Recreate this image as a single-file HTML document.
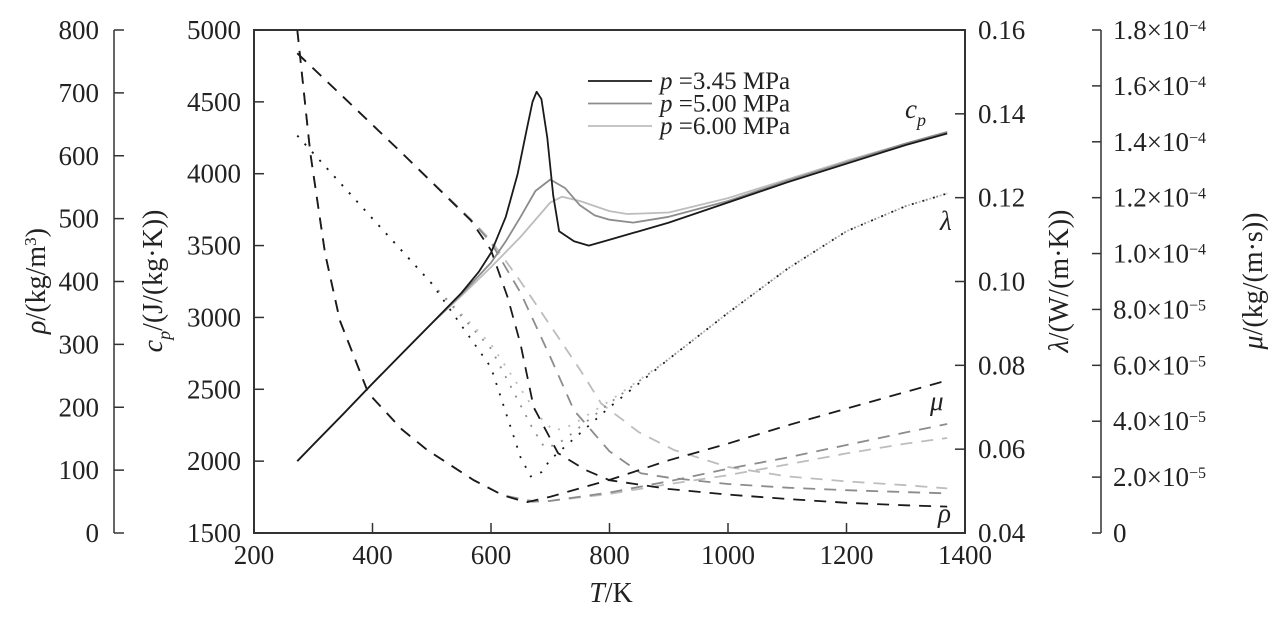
<!DOCTYPE html>
<html><head><meta charset="utf-8"><style>
html,body{margin:0;padding:0;background:#fff;}
svg, svg text, svg tspan{font-family:"Liberation Serif","DejaVu Serif",serif !important;}
</style></head><body>
<svg id="chart" width="1273" height="621" viewBox="0 0 1273 621" xmlns="http://www.w3.org/2000/svg">
<g id="axes"></g>
<g id="series"></g>
<g id="labels"></g>
</svg>
<script>
// ---- data ----
const pressures = ["3.45", "5.00", "6.00"];
const colors = ["#1a1a1a", "#8c8c8c", "#bdbdbd"];
const xTicks = [200, 400, 600, 800, 1000, 1200, 1400];
const cpTicks = [1500, 2000, 2500, 3000, 3500, 4000, 4500, 5000];
const rhoTicks = [0, 100, 200, 300, 400, 500, 600, 700, 800];
const lamTicks = ["0.04", "0.06", "0.08", "0.10", "0.12", "0.14", "0.16"];
const muTicks = ["0", "2.0×10<tspan baseline-shift='super' font-size='16'>−5</tspan>", "4.0×10<tspan baseline-shift='super' font-size='16'>−5</tspan>", "6.0×10<tspan baseline-shift='super' font-size='16'>−5</tspan>", "8.0×10<tspan baseline-shift='super' font-size='16'>−5</tspan>", "1.0×10<tspan baseline-shift='super' font-size='16'>−4</tspan>", "1.2×10<tspan baseline-shift='super' font-size='16'>−4</tspan>", "1.4×10<tspan baseline-shift='super' font-size='16'>−4</tspan>", "1.6×10<tspan baseline-shift='super' font-size='16'>−4</tspan>", "1.8×10<tspan baseline-shift='super' font-size='16'>−4</tspan>"];

const cpT = [
  [273,300,350,400,450,500,550,580,600,625,645,660,670,677,685,695,705,715,740,765,800,850,900,1000,1100,1200,1300,1370],
  [273,300,350,400,450,500,550,600,625,650,675,700,725,750,775,800,840,900,1000,1100,1200,1300,1370],
  [273,300,350,400,450,500,550,600,650,700,720,750,800,830,900,1000,1100,1200,1300,1370]
];
const cpV = [
  [2000,2115,2325,2540,2750,2960,3170,3320,3450,3700,4000,4300,4500,4570,4520,4250,3850,3600,3530,3500,3540,3600,3660,3800,3940,4070,4200,4280],
  [2000,2115,2325,2540,2750,2960,3160,3380,3530,3700,3880,3960,3900,3780,3710,3680,3660,3700,3810,3950,4080,4210,4290],
  [2000,2115,2325,2540,2750,2960,3150,3350,3560,3800,3840,3810,3740,3720,3730,3830,3960,4090,4210,4290]
];
const rhoT = [
  [273,350,450,566,600,628,650,672,713,760,800,900,1000,1100,1200,1300,1370],
  [273,350,450,566,600,650,700,740,800,853,900,1000,1100,1200,1300,1370],
  [273,350,450,566,600,650,700,750,786,850,909,1000,1100,1200,1300,1370]
];
const rhoV = [
  [763,694,604,497,450,375,300,200,127,100,84,70,61,54,48,44,42],
  [763,694,604,498,462,382,280,195,130,95,88,78,72,68,65,63],
  [763,694,604,499,465,400,330,260,206,160,132,105,90,82,76,71]
];
const muT = [
  [273,295,320,345,393,450,493,571,620,660,700,800,900,1000,1100,1200,1300,1370],
  [273,295,320,345,393,450,493,571,620,670,700,800,900,1000,1100,1200,1300,1370],
  [273,295,320,345,393,450,493,571,620,675,700,800,900,1000,1100,1200,1300,1370]
];
const muV = [
  [1.80e-4,1.36e-4,1.0e-4,7.6e-5,5.0e-5,3.7e-5,2.96e-5,1.89e-5,1.35e-5,1.10e-5,1.3e-5,1.9e-5,2.6e-5,3.2e-5,3.85e-5,4.45e-5,5.05e-5,5.46e-5],
  [1.80e-4,1.36e-4,1.0e-4,7.6e-5,5.0e-5,3.7e-5,2.96e-5,1.89e-5,1.35e-5,1.12e-5,1.15e-5,1.45e-5,1.85e-5,2.3e-5,2.7e-5,3.15e-5,3.6e-5,3.9e-5],
  [1.80e-4,1.36e-4,1.0e-4,7.6e-5,5.0e-5,3.7e-5,2.96e-5,1.89e-5,1.35e-5,1.13e-5,1.15e-5,1.4e-5,1.75e-5,2.07e-5,2.45e-5,2.85e-5,3.2e-5,3.4e-5]
];
const lamT = [
  [273,400,500,600,650,667,685,700,800,900,1000,1100,1200,1300,1370],
  [273,400,500,600,670,690,710,730,800,900,1000,1100,1200,1300,1370],
  [273,400,500,600,680,705,725,745,800,900,1000,1100,1200,1300,1370]
];
const lamV = [
  [0.1348,0.1150,0.0995,0.0795,0.0580,0.0535,0.0545,0.0575,0.0700,0.0815,0.0925,0.1030,0.1120,0.1180,0.1210],
  [0.1348,0.1150,0.0995,0.0840,0.0650,0.0605,0.0610,0.0630,0.0710,0.0815,0.0925,0.1030,0.1120,0.1180,0.1210],
  [0.1348,0.1150,0.0995,0.0850,0.0680,0.0645,0.0650,0.0665,0.0715,0.0815,0.0925,0.1030,0.1120,0.1180,0.1210]
];

// ---- scales ----
const L = 254, R = 965, TOP = 30, BOT = 533;
const xS = t => L + (t - 200) / 1200 * (R - L);
const cpS = v => BOT - (v - 1500) / 3500 * (BOT - TOP);
const rhoS = v => BOT - v / 800 * (BOT - TOP);
const lamS = v => BOT - (v - 0.04) / 0.12 * (BOT - TOP);
const muS = v => BOT - v / 1.8e-4 * (BOT - TOP);
const FF = "'Liberation Serif', 'DejaVu Serif', serif";
const FS = 27;

const NS = "http://www.w3.org/2000/svg";
function mk(tag, parent, attrs) {
  const e = document.createElementNS(NS, tag);
  for (const k in attrs) e.setAttribute(k, attrs[k]);
  parent.appendChild(e);
  return e;
}
const axes = document.getElementById('axes');
const series = document.getElementById('series');
const labels = document.getElementById('labels');

let fr = mk('rect', axes, {x: L, y: TOP, width: R - L, height: BOT - TOP, fill: 'none', stroke: '#333', 'stroke-width': 2});



xTicks.forEach(t => {
  const x = xS(t);
  let tk = mk('line', axes, {x1: x, x2: x, y1: BOT, y2: BOT - 10, stroke: '#333', 'stroke-width': 1.5});
  
  
  let tx = mk('text', axes, {x: x, y: 564, 'font-size': FS, 'font-family': FF, 'text-anchor': 'middle', fill: '#222'});
  tx.textContent = t;
  
  
});
cpTicks.forEach(v => {
  const y = cpS(v);
  let tk = mk('line', axes, {x1: L, x2: L + 10, y1: y, y2: y, stroke: '#333', 'stroke-width': 1.5});
  
  
  let tx = mk('text', axes, {x: 241, y: y + 9, 'font-size': FS, 'font-family': FF, 'text-anchor': 'end', fill: '#222'});
  tx.textContent = v;
  
  
});
let ra = mk('line', axes, {x1: 114, x2: 114, y1: TOP, y2: BOT, stroke: '#333', 'stroke-width': 1.5});


rhoTicks.forEach(v => {
  const y = rhoS(v);
  let tk = mk('line', axes, {x1: 114, x2: 124, y1: y, y2: y, stroke: '#333', 'stroke-width': 1.5});
  
  
  let tx = mk('text', axes, {x: 99, y: y + 9, 'font-size': FS, 'font-family': FF, 'text-anchor': 'end', fill: '#222'});
  tx.textContent = v;
  
  
});
lamTicks.forEach(s => {
  const y = lamS(parseFloat(s));
  let tk = mk('line', axes, {x1: R, x2: R - 10, y1: y, y2: y, stroke: '#333', 'stroke-width': 1.5});
  
  
  let tx = mk('text', axes, {x: 978, y: y + 9, 'font-size': FS, 'font-family': FF, fill: '#222'});
  tx.textContent = s;
  
  
});
let ma = mk('line', axes, {x1: 1101, x2: 1101, y1: TOP, y2: BOT, stroke: '#333', 'stroke-width': 1.5});


muTicks.forEach((s, i) => {
  const y = muS(i * 2e-5);
  let tk = mk('line', axes, {x1: 1101, x2: 1092, y1: y, y2: y, stroke: '#333', 'stroke-width': 1.5});
  
  
  let tx = mk('text', axes, {x: 1113, y: y + 9, 'font-size': FS, 'font-family': FF, fill: '#222'});
  tx.innerHTML = s;
  
  
});

function path(ts, vs, sc) {
  const n = Math.min(ts.length, vs.length);
  let d = '';
  for (let i = 0; i < n; i++) d += (i ? 'L' : 'M') + xS(ts[i]).toFixed(1) + ',' + sc(vs[i]).toFixed(1) + ' ';
  return d;
}
for (let i = pressures.length - 1; i >= 0; i--) {
  const p = pressures[i];
  let a = mk('path', series, {d: path(rhoT[i], rhoV[i], rhoS), fill: 'none', stroke: colors[i], 'stroke-width': 1.8, 'stroke-dasharray': '12 9'});
  
  
  let b = mk('path', series, {d: path(muT[i], muV[i], muS), fill: 'none', stroke: colors[i], 'stroke-width': 1.8, 'stroke-dasharray': '12 9'});
  
  
  let c = mk('path', series, {d: path(lamT[i], lamV[i], lamS), fill: 'none', stroke: colors[i], 'stroke-width': 1.8, 'stroke-dasharray': '2 9'});
  
  
}
for (let i = pressures.length - 1; i >= 0; i--) {
  let d = mk('path', series, {d: path(cpT[i], cpV[i], cpS), fill: 'none', stroke: colors[i], 'stroke-width': 1.8, 'stroke-linejoin': 'round'});
  
  
}

pressures.forEach((p, i) => {
  const y = 81 + i * 22.5;
  let ln = mk('line', labels, {x1: 588, x2: 652, y1: y, y2: y, stroke: colors[i], 'stroke-width': 1.8});
  
  
  let tx = mk('text', labels, {x: 660, y: y + 8, 'font-size': 25, 'font-family': FF, fill: '#222'});
  tx.innerHTML = "<tspan font-style='italic'>p</tspan> =" + p + " MPa";
  
  
});
</script>
<script>
const lab = document.getElementById('labels');
const extra = `
<text x="905" y="118" font-size="27" font-style="italic" fill="#222">c<tspan dy="8" font-size="18">p</tspan></text>
<text x="940" y="230" font-size="27" font-style="italic" fill="#222">λ</text>
<text x="930" y="410" font-size="27" font-style="italic" fill="#222">μ</text>
<text x="938" y="522" font-size="27" font-style="italic" fill="#222">ρ</text>
<text x="611" y="602" font-size="28" text-anchor="middle" fill="#222"><tspan font-style="italic">T</tspan>/K</text>
<text transform="translate(45,281) rotate(-90)" font-size="28" text-anchor="middle" fill="#222"><tspan font-style="italic">ρ</tspan>/(kg/m<tspan dy="-9" font-size="17">3</tspan><tspan dy="9">)</tspan></text>
<text transform="translate(162,281) rotate(-90)" font-size="28" text-anchor="middle" fill="#222"><tspan font-style="italic">c</tspan><tspan font-style="italic" dy="8" font-size="18">p</tspan><tspan dy="-8">/(J/(kg·K))</tspan></text>
<text transform="translate(1068,281) rotate(-90)" font-size="28" text-anchor="middle" fill="#222"><tspan font-style="italic">λ</tspan>/(W/(m·K))</text>
<text transform="translate(1262,281) rotate(-90)" font-size="28" text-anchor="middle" fill="#222"><tspan font-style="italic">μ</tspan>/(kg/(m·s))</text>`;
lab.insertAdjacentHTML('beforeend', extra);
</script>
</body></html>
